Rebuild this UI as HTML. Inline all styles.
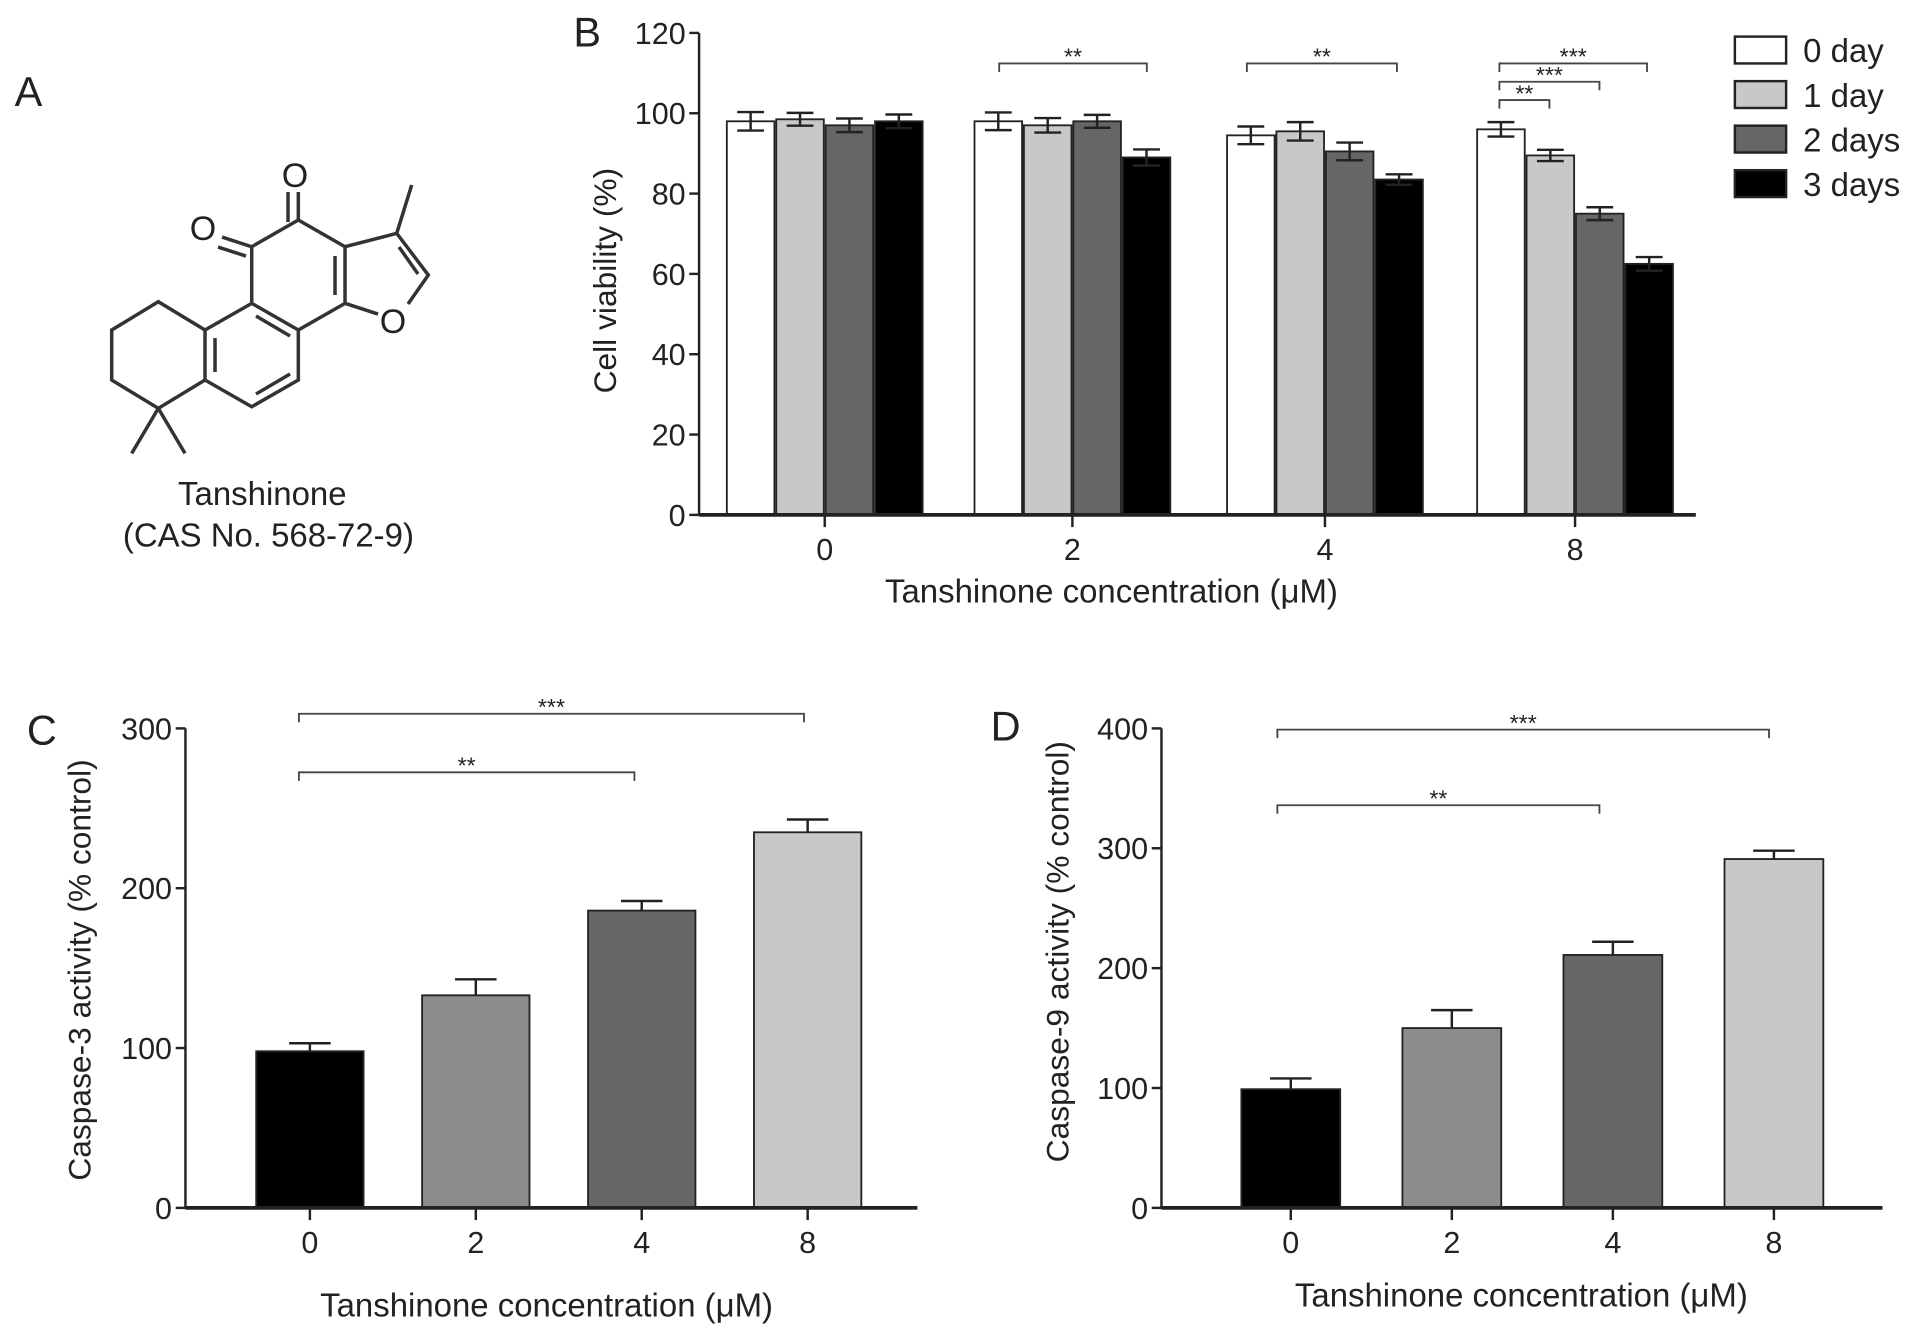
<!DOCTYPE html>
<html><head><meta charset="utf-8"><style>html,body{margin:0;padding:0;background:#fff}svg{display:block}text{font-family:"Liberation Sans",sans-serif;fill:#222}</style></head>
<body>
<svg id="fig" width="1913" height="1336" viewBox="0 0 1568 1095" preserveAspectRatio="none" xmlns="http://www.w3.org/2000/svg">
<text x="12" y="87" font-size="34">A</text>
<g transform="scale(0.8197)" stroke="#333" stroke-width="3.5" fill="none">
<polyline points="205,330 158.3,301.7 111.7,330 111.7,380 158.3,408.3 205,380"/>
<polygon points="205,330 251.7,303.3 298.3,330 298.3,380 251.7,406.7 205,380"/>
<line x1="215" y1="338" x2="215" y2="372"/><line x1="256" y1="316" x2="290" y2="336"/><line x1="256" y1="394" x2="290" y2="374"/>
<polyline points="251.7,303.3 251.7,246.7 298.3,220 345,246.7 345,303.3 298.3,330"/>
<line x1="335" y1="256" x2="335" y2="295"/>
<line x1="251.7" y1="246.7" x2="222" y2="237"/><line x1="246" y1="256" x2="218" y2="247"/>
<line x1="298.3" y1="220" x2="298.3" y2="192"/><line x1="288" y1="222" x2="288" y2="192"/>
<polyline points="345,246.7 396.7,233.3 428.3,275 408,304"/><line x1="345" y1="303.3" x2="378" y2="314"/>
<line x1="399" y1="247" x2="418" y2="274"/>
<line x1="396.7" y1="233.3" x2="411.7" y2="185"/>
<line x1="158.3" y1="408.3" x2="131.7" y2="453.3"/><line x1="158.3" y1="408.3" x2="185" y2="453.3"/>
<text x="203" y="240" font-size="34" text-anchor="middle" stroke="none" fill="#333">O</text>
<text x="295" y="187" font-size="34" text-anchor="middle" stroke="none" fill="#333">O</text>
<text x="393" y="333" font-size="34" text-anchor="middle" stroke="none" fill="#333">O</text>
</g>
<text x="215" y="414" font-size="27" text-anchor="middle">Tanshinone</text>
<text x="220" y="448" font-size="27" text-anchor="middle">(CAS No. 568-72-9)</text>
<text x="470" y="38" font-size="34">B</text>
<text x="22" y="610" font-size="34">C</text>
<text x="812" y="607" font-size="34">D</text>
<g id="pb"></g><g id="pc"></g><g id="pd"></g>
</svg>
<script>
// Panel B data
const bCategories = ['0','2','4','8'];
const bSeriesNames = ['0 day','1 day','2 days','3 days'];
const bDay0 = [98, 98, 94.5, 96];
const bDay1 = [98.5, 97, 95.5, 89.5];
const bDay2 = [97, 98, 90.5, 75];
const bDay3 = [98, 89, 83.5, 62.5];
const bErr0 = [2.3, 2.2, 2.2, 1.8];
const bErr1 = [1.6, 1.8, 2.3, 1.4];
const bErr2 = [1.7, 1.6, 2.2, 1.6];
const bErr3 = [1.7, 2.0, 1.3, 1.7];
const bTicks = [0,20,40,60,80,100,120];
// Panel C data
const cCategories = ['0','2','4','8'];
const cValues = [98, 133, 186, 235];
const cErrors = [5, 10, 6, 8];
const cTicks = [0,100,200,300];
// Panel D data
const dCategories = ['0','2','4','8'];
const dValues = [99, 150, 211, 291];
const dErrors = [9, 15, 11, 7];
const dTicks = [0,100,200,300,400];

const NS='http://www.w3.org/2000/svg';
function mk(parent,tag,attrs,txt){const e=document.createElementNS(NS,tag);for(const k in attrs)e.setAttribute(k,attrs[k]);if(txt!==undefined)e.textContent=txt;parent.appendChild(e);return e;}

function axisY(g,x0,y0,y1,vmax,ticks,ylab,labX,labY){
  const ys=v=>y0-(v/vmax)*(y0-y1);
  const ax=mk(g,'line',{x1:x0,y1:ys(0),x2:x0,y2:ys(vmax),stroke:'#222','stroke-width':2});
  
  
  ticks.forEach(t=>{
    const tk=mk(g,'line',{x1:x0-8,y1:ys(t),x2:x0,y2:ys(t),stroke:'#222','stroke-width':2});
    
    
    const tl=mk(g,'text',{x:x0-11,y:ys(t)+9,'font-size':25,'text-anchor':'end'},String(t));
    
    
  });
  const yl=mk(g,'text',{x:0,y:0,'font-size':26,'text-anchor':'middle',transform:`translate(${labX},${labY}) rotate(-90)`},ylab);
  
  
  return ys;
}
function xAxis(g,x0,x1,y,cats,centers,xlab,labX,labY){
  const ax=mk(g,'line',{x1:x0,y1:y,x2:x1,y2:y,stroke:'#222','stroke-width':3});
  
  
  cats.forEach((c,i)=>{
    const tk=mk(g,'line',{x1:centers[i],y1:y,x2:centers[i],y2:y+10,stroke:'#222','stroke-width':2});
    
    
    const tl=mk(g,'text',{x:centers[i],y:y+37,'font-size':25,'text-anchor':'middle'},c);
    
    
  });
  const xl=mk(g,'text',{x:labX,y:labY,'font-size':27,'text-anchor':'middle'},xlab);
  
  
}
function bracket(g,xa,xb,y,stars){
  const p=mk(g,'path',{d:`M${xa},${y+7}V${y}H${xb}V${y+7}`,fill:'none',stroke:'#444','stroke-width':1.5});
  
  
  const t=mk(g,'text',{x:(xa+xb)/2,y:y+1,'font-size':19,'text-anchor':'middle'},stars);
  
  
}
function errBar(g,x,yv,ye,half,both){
  const p=mk(g,'path',{d:`M${x},${both?ye.lo:yv}V${ye.hi}M${x-half},${ye.hi}H${x+half}`+(both?`M${x-half},${ye.lo}H${x+half}`:''),stroke:'#222','stroke-width':2,fill:'none'});
  
  
}

// Panel B
(function(){
  const g=document.getElementById('pb');
  const ys=axisY(g,573,422,27,120,bTicks,'Cell viability (%)',505,230);
  const centers=[676,879,1086,1291];
  const series=[bDay0,bDay1,bDay2,bDay3], errs=[bErr0,bErr1,bErr2,bErr3];
  const fills=['#fff','#c8c8c8','#666','#000'];
  const bw=40.5;
  bCategories.forEach((c,i)=>{
    series.forEach((s,k)=>{
      const x=centers[i]-2*bw+k*bw;
      const r=mk(g,'rect',{x:x+0.75,y:ys(s[i]),width:bw-1.5,height:ys(0)-ys(s[i]),fill:fills[k],stroke:'#222','stroke-width':1.5});
      
      
      errBar(g,x+bw/2,ys(s[i]),{hi:ys(s[i]+errs[k][i]),lo:ys(s[i]-errs[k][i])},11,true);
    });
  });
  xAxis(g,573,1390,422,bCategories,centers,'Tanshinone concentration (μM)',911,494);
  bracket(g,819,940,52,'**');
  bracket(g,1022,1145,52,'**');
  bracket(g,1229,1350,52,'***');
  bracket(g,1229,1311,67,'***');
  bracket(g,1229,1270,82,'**');
  bSeriesNames.forEach((n,k)=>{
    const y=30+k*36.5;
    const r=mk(g,'rect',{x:1422,y:y,width:42,height:22,fill:fills[k],stroke:'#222','stroke-width':2});
    
    
    const t=mk(g,'text',{x:1478,y:y+21,'font-size':27},n);
    
    
  });
})();

function simple(id,vals,errs,cats,ticks,vmax,x0,x1,y0,y1,centers,bw,ylab,ylx,yly,xlx,xly){
  const g=document.getElementById(id);
  const ys=axisY(g,x0,y0,y1,vmax,ticks,ylab,ylx,yly);
  const fills=['#000','#8c8c8c','#666','#c8c8c8'];
  cats.forEach((c,i)=>{
    errBar(g,centers[i],ys(vals[i]),{hi:ys(vals[i]+errs[i])},17,false);
    const r=mk(g,'rect',{x:centers[i]-bw/2,y:ys(vals[i]),width:bw,height:ys(0)-ys(vals[i]),fill:fills[i],stroke:'#222','stroke-width':1.5});
    
    
  });
  xAxis(g,x0,x1,y0,cats,centers,'Tanshinone concentration (μM)',xlx,xly);
  return g;
}
const gc=simple('pc',cValues,cErrors,cCategories,cTicks,300,152,752,990,597,[254,390,526,662],88,'Caspase-3 activity (% control)',74,795,448,1079);
bracket(gc,245,520,633,'**');
bracket(gc,245,659,585,'***');
const gd=simple('pd',dValues,dErrors,dCategories,dTicks,400,952,1543,990,597,[1058,1190,1322,1454],81,'Caspase-9 activity (% control)',876,780,1247,1071);
bracket(gd,1047,1311,660,'**');
bracket(gd,1047,1450,598,'***');
</script>
</body></html>
